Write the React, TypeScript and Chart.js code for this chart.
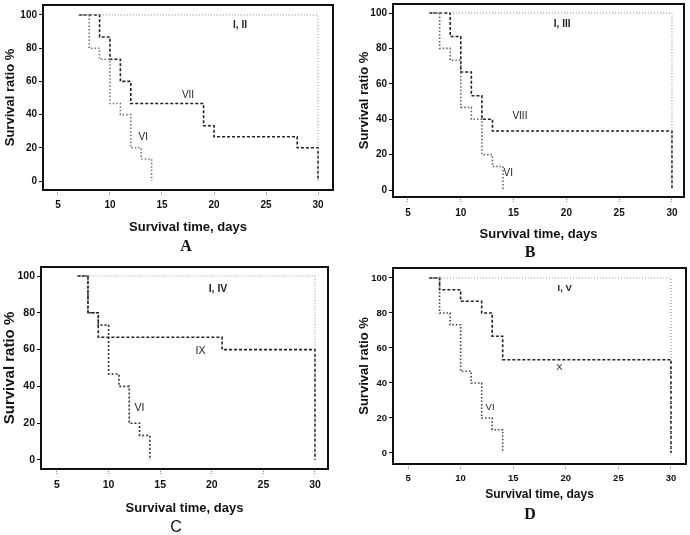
import React, { useEffect, useRef } from 'react';
import { Chart, registerables } from 'chart.js';
Chart.register(...registerables);

// ---- data (Kaplan-Meier step points: day, survival %) ----
const ctrlDays = [7, 30];
const ctrlSurv = [100, 0];
const viDays = [7, 8, 9, 10, 11, 12, 13, 14];
const viSurv = [100, 80, 73.3, 46.7, 40, 20, 13.3, 0];
const viiDays = [7, 9, 10, 11, 12, 19, 20, 28, 30];
const viiSurv = [100, 86.7, 73.3, 60, 46.7, 33.3, 26.7, 20, 0];
const viiiDays = [7, 9, 10, 11, 12, 13, 30];
const viiiSurv = [100, 86.7, 66.7, 53.3, 40, 33.3, 0];
const ixDays = [7, 8, 9, 21, 30];
const ixSurv = [100, 80, 66.7, 60, 0];
const xDays = [7, 8, 10, 12, 13, 14, 30];
const xSurv = [100, 93.3, 86.7, 80, 66.7, 53.3, 0];

const xTicks = [5, 10, 15, 20, 25, 30];
const yTicks = [0, 20, 40, 60, 80, 100];
const panelLetters = ['A', 'B', 'C', 'D'];
const controlLabels = ['I, II', 'I, III', 'I, IV', 'I, V'];
const treatLabels = ['VII', 'VIII', 'IX', 'X'];
const viLabel = 'VI';
const xTitle = 'Survival time, days';
const yTitle = 'Survival ratio %';

const treatDays = [viiDays, viiiDays, ixDays, xDays];
const treatSurv = [viiSurv, viiiSurv, ixSurv, xSurv];

const zip = (xs: number[], ys: number[]) => xs.map((x, i) => ({ x, y: ys[i] }));

const SANS = "'Liberation Sans', Arial, sans-serif";

type PanelCfg = {
  left: number; top: number; w: number; h: number;
  area: { l: number; t: number; r: number; b: number }; // in canvas px
  padBottom: number;
  xMin: number; xMax: number; yMin: number; yMax: number;
  yTitleSize: number; yTitlePad: number;
  xTitleSize: number;
  tickSize: number; xTickPad: number;
  ctrlPos: [number, number]; treatPos: [number, number]; viPos: [number, number];
  viColor: string; viDash: number[];
  letterPos: [number, number]; letterFont: string;
};

const panels: PanelCfg[] = [
  {
    left: 0, top: 0, w: 345, h: 265,
    area: { l: 43, t: 5, r: 333, b: 190 }, padBottom: 30,
    xMin: 3.56, xMax: 31.44, yMin: -5.4, yMax: 106,
    yTitleSize: 13, yTitlePad: 3, xTitleSize: 13, tickSize: 10, xTickPad: 4,
    ctrlPos: [22.5, 94], treatPos: [17.5, 51.8], viPos: [13.2, 26.5],
    viColor: '#777', viDash: [1.5, 2],
    letterPos: [186, 247], letterFont: "bold 16px 'Liberation Serif', 'Times New Roman', serif",
  },
  {
    left: 345, top: 0, w: 345, h: 265,
    area: { l: 48, t: 4, r: 339, b: 197 }, padBottom: 23,
    xMin: 3.58, xMax: 31.14, yMin: -3.95, yMax: 105.1,
    yTitleSize: 13, yTitlePad: 12, xTitleSize: 13, tickSize: 10, xTickPad: 5,
    ctrlPos: [19.6, 93.8], treatPos: [15.6, 41.5], viPos: [14.5, 9.7],
    viColor: '#666', viDash: [1.5, 2],
    letterPos: [530, 253], letterFont: "bold 16px 'Liberation Serif', 'Times New Roman', serif",
  },
  {
    left: 0, top: 265, w: 345, h: 270,
    area: { l: 41, t: 2, r: 328, b: 204 }, padBottom: 19,
    xMin: 3.45, xMax: 31.26, yMin: -4.9, yMax: 104.9,
    yTitleSize: 15, yTitlePad: 1, xTitleSize: 13, tickSize: 10.5, xTickPad: 5,
    ctrlPos: [20.6, 93], treatPos: [18.9, 59], viPos: [13.0, 28],
    viColor: '#333', viDash: [2, 2],
    letterPos: [176, 528], letterFont: "16px 'Liberation Sans', Arial, sans-serif",
  },
  {
    left: 345, top: 265, w: 345, h: 270,
    area: { l: 48, t: 3, r: 341, b: 199 }, padBottom: 33,
    xMin: 3.57, xMax: 31.43, yMin: -6.3, yMax: 105.7,
    yTitleSize: 13, yTitlePad: 12, xTitleSize: 12, tickSize: 9.5, xTickPad: 4,
    ctrlPos: [19.9, 94.3], treatPos: [19.4, 49], viPos: [12.8, 26],
    viColor: '#444', viDash: [1.5, 2],
    letterPos: [530, 515], letterFont: "bold 16px 'Liberation Serif', 'Times New Roman', serif",
  },
];

const boxPlugin = {
  id: 'box',
  afterDatasetsDraw(chart: any, _args: any, opts: any) {
    const { ctx, chartArea: a, scales } = chart;
    ctx.save();
    ctx.strokeStyle = '#111';
    ctx.lineWidth = 2;
    ctx.setLineDash([]);
    ctx.strokeRect(a.left, a.top, a.right - a.left, a.bottom - a.top);
    (opts.labels || []).forEach((l: any) => {
      ctx.font = l.font;
      ctx.fillStyle = '#222';
      ctx.textAlign = 'center';
      ctx.textBaseline = 'middle';
      ctx.fillText(l.text, scales.x.getPixelForValue(l.x), scales.y.getPixelForValue(l.y));
    });
    ctx.restore();
  },
};

function Panel({ idx }: { idx: number }) {
  const ref = useRef<HTMLCanvasElement>(null);
  const p = panels[idx];
  useEffect(() => {
    if (!ref.current) return;
    const labFont = `${p.tickSize}px ${SANS}`;
    const chart = new Chart(ref.current, {
      type: 'line',
      data: {
        datasets: [
          {
            data: zip(ctrlDays, ctrlSurv), stepped: true, borderColor: '#9a9a9a',
            borderWidth: 1.2, borderDash: [1, 2], pointRadius: 0, fill: false,
          },
          {
            data: zip(viDays, viSurv), stepped: true, borderColor: p.viColor,
            borderWidth: 1.6, borderDash: p.viDash, pointRadius: 0, fill: false,
          },
          {
            data: zip(treatDays[idx], treatSurv[idx]), stepped: true, borderColor: '#222',
            borderWidth: 1.6, borderDash: [3, 2], pointRadius: 0, fill: false,
          },
        ],
      },
      options: {
        responsive: false,
        animation: false,
        devicePixelRatio: 1,
        layout: {
          padding: { left: 0, top: p.area.t, right: p.w - p.area.r, bottom: p.padBottom },
        },
        plugins: {
          legend: { display: false },
          tooltip: { enabled: false },
          box: {
            labels: [
              { text: controlLabels[idx], x: p.ctrlPos[0], y: p.ctrlPos[1], font: `bold ${p.tickSize}px ${SANS}` },
              { text: treatLabels[idx], x: p.treatPos[0], y: p.treatPos[1], font: labFont },
              { text: viLabel, x: p.viPos[0], y: p.viPos[1], font: labFont },
            ],
          },
        } as any,
        scales: {
          x: {
            type: 'linear', min: p.xMin, max: p.xMax,
            afterBuildTicks: (s: any) => { s.ticks = xTicks.map((v) => ({ value: v })); },
            afterFit: (s: any) => {
              s.height = p.h - p.padBottom - p.area.b;
              s.paddingLeft = 0; s.paddingRight = 0;
            },
            ticks: {
              autoSkip: false, maxRotation: 0, padding: p.xTickPad, color: '#111',
              font: { family: SANS, size: p.tickSize, weight: 'bold' },
            },
            grid: {
              display: true, drawOnChartArea: false, drawTicks: true, tickLength: 5,
              color: '#888', tickBorderDash: [1, 1],
            },
            border: { display: false },
            title: {
              display: true, text: xTitle, color: '#111',
              font: { family: SANS, size: p.xTitleSize, weight: 'bold' },
              padding: { top: 0, bottom: 0 },
            },
          },
          y: {
            type: 'linear', min: p.yMin, max: p.yMax,
            afterBuildTicks: (s: any) => { s.ticks = yTicks.map((v) => ({ value: v })); },
            afterFit: (s: any) => {
              s.width = p.area.l;
              s.paddingTop = 0; s.paddingBottom = 0;
            },
            ticks: {
              padding: 2, color: '#111',
              font: { family: SANS, size: p.tickSize, weight: 'bold' },
            },
            grid: {
              display: true, drawOnChartArea: false, drawTicks: true, tickLength: 4,
              color: '#111',
            },
            border: { display: false },
            title: {
              display: true, text: yTitle, color: '#111',
              font: { family: SANS, size: p.yTitleSize, weight: 'bold' },
              padding: { top: p.yTitlePad, bottom: 0 },
            },
          },
        },
      } as any,
      plugins: [boxPlugin as any],
    });
    return () => chart.destroy();
  }, [idx]);
  return (
    <canvas
      ref={ref}
      width={p.w}
      height={p.h}
      style={{ position: 'absolute', left: p.left, top: p.top, width: p.w, height: p.h }}
    />
  );
}

export default function App() {
  return (
    <div style={{ position: 'absolute', left: 0, top: 0, width: 690, height: 535, background: '#fff', overflow: 'hidden' }}>
      {panels.map((_, i) => <Panel key={i} idx={i} />)}
      {panels.map((p, i) => (
        <div
          key={'l' + i}
          style={{
            position: 'absolute', left: p.letterPos[0] - 20, top: p.letterPos[1] - 10,
            width: 40, height: 20, lineHeight: '20px', textAlign: 'center',
            font: p.letterFont, color: '#111',
          }}
        >
          {panelLetters[i]}
        </div>
      ))}
    </div>
  );
}
